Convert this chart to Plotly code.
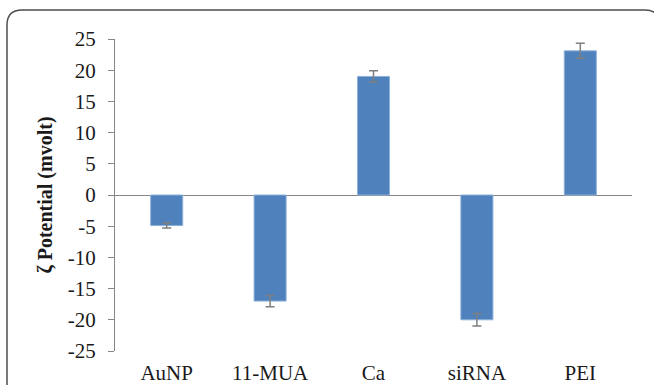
import plotly.graph_objects as go

# Zeta potential of each layer of the nanoparticle assembly
categories = ["AuNP", "11-MUA", "Ca", "siRNA", "PEI"]
zeta_mv = [-4.9, -17.0, 19.0, -20.0, 23.1]
zeta_err = [0.4, 0.9, 0.9, 1.0, 1.2]
y_ticks = [25, 20, 15, 10, 5, 0, -5, -10, -15, -20, -25]

W, H = 654, 385
L, R, T, B = 115, 22, 39, 34
pw, ph = W - L - R, H - T - B

serif = "Liberation Serif"

fig = go.Figure(
    go.Bar(
        x=categories,
        y=zeta_mv,
        width=0.31,
        marker=dict(color="#4F81BD", line=dict(color="#8fb0da", width=1)),
        error_y=dict(type="data", array=zeta_err, visible=True,
                     color="#7f7f7f", thickness=1.5, width=4.5),
    )
)

# rounded outer frame, expressed in paper units relative to the plot area
def px_x(v):
    return (v - L) / pw

def px_y(v):
    return (H - B - v) / ph

r = 15
x0, x1, y0, y1 = 7, 660, 10, 400
path = (
    f"M {px_x(x0)},{px_y(y1)} "
    f"L {px_x(x0)},{px_y(y0 + r)} "
    f"Q {px_x(x0)},{px_y(y0)} {px_x(x0 + r)},{px_y(y0)} "
    f"L {px_x(x1 - r)},{px_y(y0)} "
    f"Q {px_x(x1)},{px_y(y0)} {px_x(x1)},{px_y(y0 + r)} "
    f"L {px_x(x1)},{px_y(y1)}"
)
fig.add_shape(type="path", path=path, xref="paper", yref="paper",
              line=dict(color="#4d4d4d", width=1.5), layer="above")

fig.update_layout(
    width=W, height=H,
    margin=dict(l=L, r=R, t=T, b=B, pad=0, autoexpand=False),
    paper_bgcolor="white", plot_bgcolor="white",
    showlegend=False,
    font=dict(family=serif, color="#1a1a1a", size=21),
    xaxis=dict(
        range=[-0.5, 4.5], showgrid=False, showline=False, ticks="",
        zeroline=False, ticklabelstandoff=7, automargin=False,
        tickfont=dict(family=serif, size=21, color="#1a1a1a"),
    ),
    yaxis=dict(
        range=[-25, 25], tickvals=y_ticks, ticktext=[str(v) for v in y_ticks],
        showgrid=False, showline=True, linecolor="#868686", linewidth=1,
        ticks="outside", ticklen=6, tickcolor="#868686", tickwidth=1,
        zeroline=True, zerolinecolor="#868686", zerolinewidth=1,
        ticklabelstandoff=8,
        tickfont=dict(family=serif, size=21, color="#1a1a1a"),
        title=dict(text="<b>ζ Potential (mvolt)</b>", standoff=9,
                   font=dict(family=serif, size=20, color="#1a1a1a")),
        automargin=False,
    ),
)

fig.write_html("out.html")
